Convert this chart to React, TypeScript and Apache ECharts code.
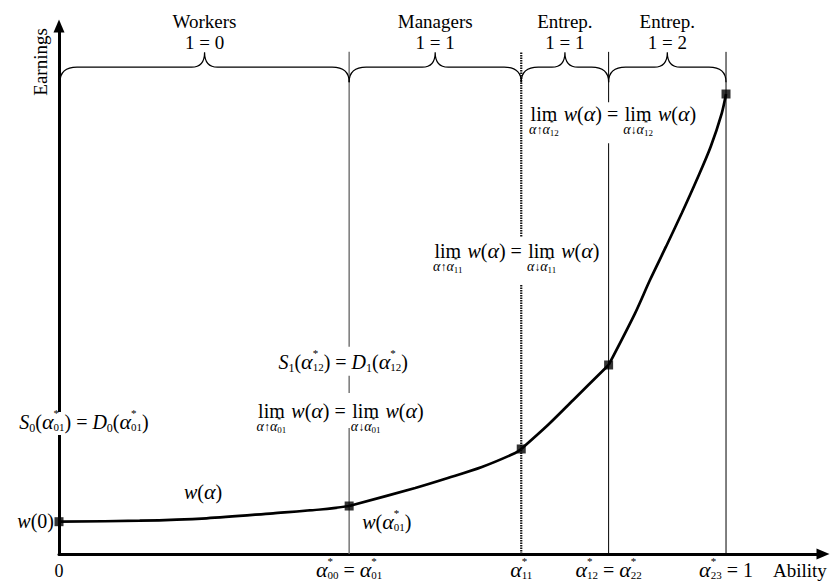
import React, { useEffect, useRef } from 'react';
import * as echarts from 'echarts';

const FONT = 'Liberation Serif, Times New Roman, serif';

// Ability thresholds
const ALPHA_01 = 0.435;
const ALPHA_11 = 0.693;
const ALPHA_12 = 0.824;
const ALPHA_23 = 1;

// Earnings curve w(alpha), one array per occupational segment
const workersCurve = [[0, 6.12], [0.121, 6.31], [0.221, 6.76], [0.321, 7.71], [0.396, 8.47], [0.435, 9.09]];
const managersCurve = [[0.435, 9.09], [0.534, 12.5], [0.583, 14.39], [0.634, 16.48], [0.684, 19.13], [0.693, 19.89]];
const entrep1Curve = [[0.693, 19.89], [0.733, 24.43], [0.771, 29.17], [0.824, 35.8]];
const entrep2Curve = [[0.824, 35.8], [0.8636, 45.59], [0.886, 51.89], [0.91, 58.2], [0.9336, 64.53], [0.956, 70.83], [0.977, 77.14], [0.9936, 83.47], [1, 87.12]];

const thresholds = [ALPHA_01, ALPHA_11, ALPHA_12, ALPHA_23];
const braceBounds = [[0, ALPHA_01], [ALPHA_01, ALPHA_11], [ALPHA_11, ALPHA_12], [ALPHA_12, ALPHA_23]];
const braceRoles = ['Workers', 'Managers', 'Entrep.', 'Entrep.'];
const braceLayers = ['1 = 0', '1 = 1', '1 = 1', '1 = 2'];

const X_MAX = 1.1454;
const Y_MAX = 100;
const LINE_TOP = 95.1;
const BRACE_Y = 92.2;
const LABEL_Y = -3.2;

const thresholdStyles = [
  { stroke: '#6e6e6e', lineWidth: 1.4 },
  { stroke: '#111', lineWidth: 2.2, lineDash: [1.5, 1] },
  { stroke: '#000', lineWidth: 1 },
  { stroke: '#000', lineWidth: 1 },
];

// ---------- tiny math layout ----------
const M = 20;
const A = 22;
const it = (t, s = M, dy = 0) => ({ t, s, i: true, dy });
const rm = (t, s = M, dy = 0) => ({ t, s, i: false, dy });
const aStar = (sub) => [it('α', A), { ss: [[rm('*', 11, -12)], [rm(sub, 11, 2)]] }];
const aStarSmall = (sub) => [it('α', 14), { ss: [[rm('*', 8, -8)], [rm(sub, 9, 2)]] }];
const wAlpha = () => [it('w'), rm('('), it('α', A), rm(')')];
const limExpr = (sub) => [
  { under: [[rm('lim')], [it('α', 14), rm('↑', 12), ...aStarSmall(sub)], 13] },
  rm(' '), ...wAlpha(), rm(' = '),
  { under: [[rm('lim')], [it('α', 14), rm('↓', 12), ...aStarSmall(sub)], 13] },
  rm(' '), ...wAlpha(),
];
const sdExpr = (k, sub) => [
  it('S'), rm(k, 12, 3), rm('('), ...aStar(sub), rm(') = '),
  it('D'), rm(k, 12, 3), rm('('), ...aStar(sub), rm(')'),
];

let ctx = null;
function measure(t, s, i) {
  if (!ctx) ctx = document.createElement('canvas').getContext('2d');
  ctx.font = `${i ? 'italic ' : ''}${s}px ${FONT}`;
  return ctx.measureText(t).width;
}
function lay(atoms, x0 = 0, dy0 = 0) {
  let x = x0;
  const items = [];
  for (const a of atoms) {
    if (a.t !== undefined) {
      items.push({ t: a.t, s: a.s, i: a.i, x, dy: dy0 + a.dy });
      x += measure(a.t, a.s, a.i);
    } else if (a.ss) {
      const p = lay(a.ss[0], x, dy0);
      const q = lay(a.ss[1], x, dy0);
      items.push(...p.items, ...q.items);
      x += Math.max(p.w, q.w);
    } else if (a.under) {
      const p = lay(a.under[0], 0, 0);
      const q = lay(a.under[1], 0, 0);
      const w = Math.max(p.w, q.w);
      p.items.forEach((e) => items.push({ ...e, x: e.x + x + (w - p.w) / 2, dy: e.dy + dy0 }));
      q.items.forEach((e) => items.push({ ...e, x: e.x + x + (w - q.w) / 2, dy: e.dy + dy0 + a.under[2] }));
      x += w;
    }
  }
  return { items, w: x - x0 };
}

// annotation layout: anchor in data coords, pixel nudges
const annotations = [
  { atoms: () => [it('w'), rm('(0)')], at: [0, workersCurve[0][1]], align: 'right', dx: -5 },
  { atoms: () => sdExpr('0', '01'), at: [0, 24.8], align: 'center', dx: 25, bg: [-11, 12] },
  { atoms: () => wAlpha(), at: [0.216, 11.55], align: 'center', dx: 0 },
  { atoms: () => [it('w'), rm('('), ...aStar('01'), rm(')')], at: [ALPHA_01, 5.87], align: 'left', dx: 13 },
  { atoms: () => limExpr('01'), at: [ALPHA_01, 26.9], align: 'center', dx: -9, bg: [-19, 16] },
  { atoms: () => sdExpr('1', '12'), at: [ALPHA_01, 36.2], align: 'center', dx: -6, bg: [-16, 13] },
  { atoms: () => limExpr('11'), at: [ALPHA_11, 57.2], align: 'center', dx: -5, bg: [-15, 33] },
  { atoms: () => limExpr('12'), at: [ALPHA_12, 83.1], align: 'center', dx: 4, bg: [-13, 28] },
  { atoms: () => [rm('0', 18)], at: [0, LABEL_Y], align: 'center', dx: 0 },
  { atoms: () => [...aStar('00'), rm(' = '), ...aStar('01')], at: [ALPHA_01, LABEL_Y], align: 'center', dx: 0 },
  { atoms: () => [...aStar('11')], at: [ALPHA_11, LABEL_Y], align: 'center', dx: 0 },
  { atoms: () => [...aStar('12'), rm(' = '), ...aStar('22')], at: [ALPHA_12, LABEL_Y], align: 'center', dx: 0 },
  { atoms: () => [...aStar('23'), rm(' = 1')], at: [ALPHA_23, LABEL_Y], align: 'center', dx: 0 },
  { atoms: () => [rm('Ability', 19)], at: [ALPHA_23, LABEL_Y], align: 'left', dx: 47 },
];

function buildGraphic(chart) {
  const els = [];
  for (const an of annotations) {
    const p = chart.convertToPixel({ gridIndex: 0 }, an.at);
    const { items, w } = lay(an.atoms());
    const cx = p[0] + an.dx;
    const left = an.align === 'center' ? cx - w / 2 : an.align === 'right' ? cx - w : cx;
    const base = p[1] + 0.3 * M;
    if (an.bg) {
      els.push({
        type: 'rect', z: 100,
        shape: { x: left - 2, y: p[1] + an.bg[0], width: w + 4, height: an.bg[1] - an.bg[0] },
        style: { fill: '#fff' },
      });
    }
    for (const e of items) {
      els.push({
        type: 'text', z: 101, x: left + e.x, y: base + e.dy - 0.34 * e.s,
        style: {
          text: e.t, font: `${e.i ? 'italic ' : ''}${e.s}px ${FONT}`,
          fill: '#000', align: 'left', verticalAlign: 'middle',
        },
      });
    }
  }
  const ep = chart.convertToPixel({ gridIndex: 0 }, [0, 93.2]);
  els.push({
    type: 'text', z: 101, x: ep[0] - 19, y: ep[1], rotation: Math.PI / 2,
    style: { text: 'Earnings', font: `19px ${FONT}`, fill: '#000', align: 'center', verticalAlign: 'middle' },
  });
  return els;
}

const keyPoints = [workersCurve[0], managersCurve[0], entrep1Curve[0], entrep2Curve[0], entrep2Curve[entrep2Curve.length - 1]];

function curveSeries(data) {
  return {
    type: 'line', data, showSymbol: false, smooth: 0.3, silent: true, z: 4,
    lineStyle: { color: '#000', width: 2.7 },
  };
}

function buildOption() {
  const axisCommon = {
    type: 'value',
    axisLine: { show: true, onZero: false, symbol: ['none', 'triangle'], symbolSize: [11, 13], lineStyle: { color: '#000', width: 3 } },
    axisTick: { show: false },
    axisLabel: { show: false },
    splitLine: { show: false },
  };
  return {
    animation: false,
    grid: { left: 59, right: 7, top: 26, bottom: 31 },
    xAxis: { ...axisCommon, min: 0, max: X_MAX },
    yAxis: { ...axisCommon, min: 0, max: Y_MAX },
    series: [
      {
        type: 'custom', coordinateSystem: 'cartesian2d', silent: true, z: 2,
        data: thresholds.map((x) => [x, LINE_TOP]),
        renderItem: (params, api) => {
          const a = api.coord([api.value(0), 0]);
          const b = api.coord([api.value(0), api.value(1)]);
          return {
            type: 'line',
            shape: { x1: a[0], y1: a[1], x2: b[0], y2: b[1] },
            style: { ...thresholdStyles[params.dataIndex], fill: null },
          };
        },
      },
      {
        type: 'custom', coordinateSystem: 'cartesian2d', silent: true, z: 3,
        data: braceBounds.map((b) => [b[0], b[1]]),
        renderItem: (params, api) => {
          const i = params.dataIndex;
          const p0 = api.coord([api.value(0), BRACE_Y]);
          const p1 = api.coord([api.value(1), BRACE_Y]);
          const x0 = p0[0] + (i === 0 ? 1 : 0);
          const x1 = p1[0];
          const y = p0[1];
          const cx = (x0 + x1) / 2;
          const d = `M${x0},${y + 15} C${x0},${y + 5} ${x0 + 6},${y} ${x0 + 17},${y} L${cx - 13},${y} C${cx - 5},${y} ${cx},${y - 4} ${cx},${y - 15} C${cx},${y - 4} ${cx + 5},${y} ${cx + 13},${y} L${x1 - 17},${y} C${x1 - 6},${y} ${x1},${y + 5} ${x1},${y + 15}`;
          return {
            type: 'group',
            children: [
              { type: 'path', shape: { pathData: d }, style: { fill: 'none', stroke: '#000', lineWidth: 1.2 } },
              {
                type: 'text', x: cx, y: y - 25,
                style: { text: braceLayers[i], font: `19px ${FONT}`, fill: '#000', align: 'center', verticalAlign: 'middle' },
              },
              {
                type: 'text', x: cx, y: y - 46,
                style: { text: braceRoles[i], font: `19px ${FONT}`, fill: '#000', align: 'center', verticalAlign: 'middle' },
              },
            ],
          };
        },
      },
      curveSeries(workersCurve),
      curveSeries(managersCurve),
      curveSeries(entrep1Curve),
      curveSeries(entrep2Curve),
      {
        type: 'scatter', data: keyPoints, symbol: 'rect', symbolSize: 9, silent: true, z: 5,
        itemStyle: { color: '#000' },
      },
    ],
  };
}

export default function App() {
  const ref = useRef(null);
  useEffect(() => {
    document.body.style.margin = '0';
    const chart = echarts.init(ref.current, null, { renderer: 'svg' });
    chart.setOption(buildOption());
    chart.setOption({ graphic: buildGraphic(chart) });
    return () => chart.dispose();
  }, []);
  return <div ref={ref} style={{ width: 830, height: 585 }} />;
}
